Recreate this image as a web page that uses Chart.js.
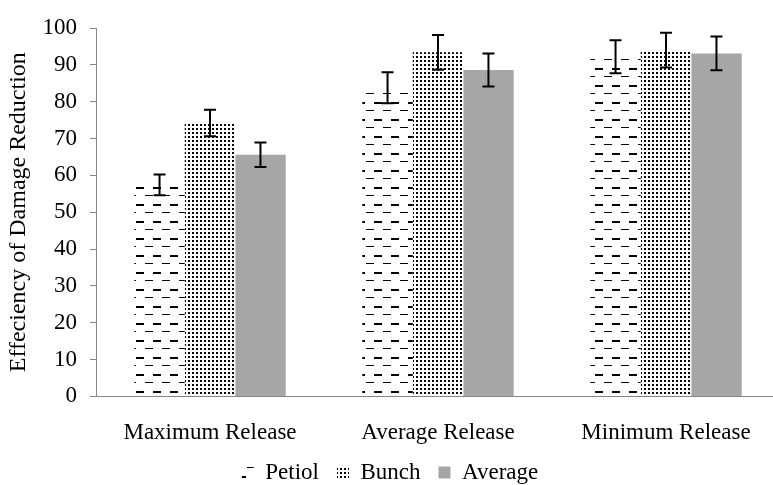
<!DOCTYPE html>
<html>
<head>
<meta charset="utf-8">
<script src="https://cdn.jsdelivr.net/npm/chart.js@4/dist/chart.umd.min.js"></script>
<style>
  html, body { margin: 0; padding: 0; background: #fff; overflow: hidden; }
  #wrap { width: 794px; height: 485px; }
</style>
</head>
<body>
<div id="wrap"><canvas id="c" width="794" height="485"></canvas></div>
<script>
const categories = ['Maximum Release', 'Average Release', 'Minimum Release'];
const seriesNames = ['Petiol', 'Bunch', 'Average'];
const petiolValues = [57.4, 83.8, 92.2];
const bunchValues = [74.2, 93.4, 94.0];
const averageValues = [65.6, 88.6, 93.1];
const petiolErrors = [2.8, 4.2, 4.5];
const bunchErrors = [3.6, 4.7, 4.7];
const averageErrors = [3.3, 4.5, 4.6];
const yTicks = [0, 10, 20, 30, 40, 50, 60, 70, 80, 90, 100];

function makePattern(w, h, draw) {
  const cv = document.createElement('canvas');
  cv.width = w; cv.height = h;
  const g = cv.getContext('2d');
  g.fillStyle = '#ffffff';
  g.fillRect(0, 0, w, h);
  g.fillStyle = '#000000';
  draw(g);
  return document.getElementById('c').getContext('2d').createPattern(cv, 'repeat');
}
const petiolPattern = makePattern(17, 17, g => {
  g.fillRect(0, 0, 8, 2);
  g.fillRect(9, 8, 8, 1);
});
const bunchPattern = makePattern(4, 4, g => {
  g.fillRect(0, 0, 2, 2);
});
const averageColor = '#a6a6a6';

const FONT = "'Liberation Serif', 'Times New Roman', serif";

const errorBarPlugin = {
  id: 'errorBars',
  afterLayout(chart) {
    chart.scales.x.bottom = chart.height;
  },
  afterDatasetsDraw(chart) {
    const ctx = chart.ctx;
    const yScale = chart.scales.y;
    ctx.save();
    ctx.strokeStyle = '#000';
    ctx.lineWidth = 2;
    chart.data.datasets.forEach((ds, di) => {
      const meta = chart.getDatasetMeta(di);
      meta.data.forEach((el, i) => {
        const v = ds.data[i];
        const e = ds.errors[i];
        const yTop = yScale.getPixelForValue(v + e);
        const yBot = yScale.getPixelForValue(v - e);
        const x = el.x;
        const cap = 6;
        ctx.beginPath();
        ctx.moveTo(x, yTop); ctx.lineTo(x, yBot);
        ctx.moveTo(x - cap, yTop); ctx.lineTo(x + cap, yTop);
        ctx.moveTo(x - cap, yBot); ctx.lineTo(x + cap, yBot);
        ctx.stroke();
      });
    });
    ctx.restore();
  }
};

new Chart(document.getElementById('c'), {
  type: 'bar',
  data: {
    labels: categories,
    datasets: [
      { label: seriesNames[0], data: petiolValues, errors: petiolErrors, backgroundColor: petiolPattern, borderWidth: 0 },
      { label: seriesNames[1], data: bunchValues, errors: bunchErrors, backgroundColor: bunchPattern, borderWidth: 0 },
      { label: seriesNames[2], data: averageValues, errors: averageErrors, backgroundColor: averageColor, borderWidth: 0 }
    ]
  },
  options: {
    responsive: false,
    animation: false,
    layout: { padding: { top: 28, right: 14, left: 0, bottom: -9 } },
    datasets: { bar: { categoryPercentage: 0.664, barPercentage: 1.0 } },
    plugins: {
      legend: {
        position: 'bottom',
        labels: {
          color: '#000',
          font: { family: FONT, size: 23 },
          boxWidth: 12,
          boxHeight: 12,
          padding: 18
        }
      },
      tooltip: { enabled: false }
    },
    scales: {
      x: {
        afterFit(scale) { scale.height = 46.6; },
        grid: { display: false, drawTicks: false },
        border: { color: '#868686', width: 1 },
        ticks: { color: '#000', font: { family: FONT, size: 23 }, padding: 23, maxRotation: 0 }
      },
      y: {
        min: 0, max: 100,
        afterBuildTicks(scale) { scale.ticks = yTicks.map(v => ({ value: v })); },
        afterFit(scale) { scale.width = 96; },
        grid: { display: true, drawOnChartArea: false, drawTicks: true, tickLength: 6, color: '#868686' },
        border: { color: '#868686', width: 1 },
        ticks: { color: '#000', font: { family: FONT, size: 23 }, padding: 13 },
        title: {
          display: true,
          text: 'Effeciency of Damage Reduction',
          color: '#000',
          font: { family: FONT, size: 24 },
          padding: { top: 4, bottom: 0 }
        }
      }
    }
  },
  plugins: [errorBarPlugin]
});
</script>
</body>
</html>
